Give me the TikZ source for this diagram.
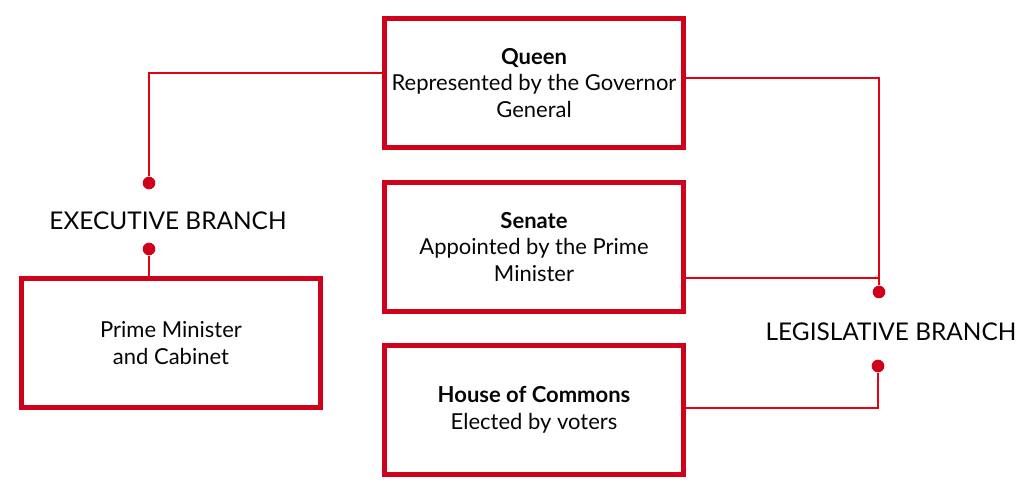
\documentclass[tikz,border=0pt]{standalone}
\usepackage{fontspec}
\setmainfont{Lato}
\usetikzlibrary{positioning,calc}
\definecolor{boxred}{RGB}{208,2,27}
\definecolor{wirered}{RGB}{230,0,20}
\definecolor{inkcolor}{RGB}{5,5,5}

\tikzset{
  govbox/.style={draw=boxred,line width=3.75pt,minimum width=224pt,minimum height=97pt,
    align=center,text=inkcolor,font=\fontsize{16.5}{20}\selectfont},
  branch/.style={text=inkcolor,font=\fontsize{18.3}{22}\selectfont},
  wire/.style={draw=wirered,line width=1pt},
  dot/.style={circle,fill=boxred,inner sep=0pt,minimum size=9.5pt}
}

\begin{document}
\begin{tikzpicture}[x=0.75pt,y=-0.75pt]
\useasboundingbox (0,0) rectangle (1034,492);
% boxes
\node[govbox] (queen) at (534,83) {\textbf{Queen}\\Represented by the Governor\\General};
\node[govbox] (senate) at (534,247) {\textbf{Senate}\\Appointed by the Prime\\Minister};
\node[govbox] (commons) at (534,410) {\textbf{House of Commons}\\Elected by voters};
\node[govbox] (pm) at (171,343) {Prime Minister\\and Cabinet};
% branches
\node[branch] (exec) at (168,221) {EXECUTIVE BRANCH};
\node[branch] (legis) at (891,332) {LEGISLATIVE BRANCH};
\node[dot] (exup) at (149,183) {};
\node[dot] (exdown) at (149,249) {};
\node[dot] (lgup) at (879,292) {};
\node[dot] (lgdown) at (878,366) {};
% connectors
\draw[wire] (exup) |- ([yshift=7.5pt]queen.west);
\draw[wire] (exdown) -- (exdown |- pm.north);
\draw[wire] ([yshift=3.75pt]queen.east) -| (lgup);
\draw[wire] ([yshift=-23.25pt]senate.east) coordinate (sen) -- (sen -| lgup);
\draw[wire] (lgdown) |- ([yshift=1.5pt]commons.east);
\end{tikzpicture}
\end{document}
